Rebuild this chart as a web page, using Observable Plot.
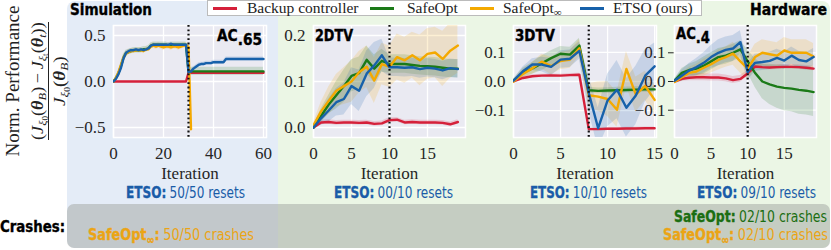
<!DOCTYPE html>
<html><head><meta charset="utf-8">
<script src="https://cdn.jsdelivr.net/npm/d3@7"></script>
<script src="https://cdn.jsdelivr.net/npm/@observablehq/plot@0.6"></script>
<style>
body{margin:0;background:#fff;}
#root{position:relative;width:831px;height:250px;overflow:hidden;background:#fff;}
.bold{font-family:"DejaVu Sans Condensed","DejaVu Sans",sans-serif;font-stretch:condensed;font-weight:bold;-webkit-text-stroke:0.35px currentColor;}
.narrow{font-family:"DejaVu Sans Condensed","DejaVu Sans",sans-serif;font-stretch:condensed;font-weight:normal;}
.serif{font-family:"Liberation Serif","DejaVu Serif",serif;color:#222;}
sub{line-height:0;}
</style></head>
<body><div id="root"></div>
<script>
// ---------- DATA ----------
const seriesKeys = ["Backup controller", "SafeOpt", "SafeOpt∞", "ETSO (ours)"];
const seriesColors = ["#d5203a", "#1b7a18", "#f4a900", "#1761aa"];

// Panel 1: AC.65 (simulation), iterations 0..60
const ac65Backup = [0,0,0,0,0,0,0,0,0,0, 0,0,0,0,0,0,0,0,0,0, 0,0,0,0,0,0,0,0,0,0,
  0.095,0.095,0.095,0.095,0.095,0.095,0.095,0.095,0.095,0.095, 0.095,0.095,0.095,0.095,0.095,0.095,0.095,0.095,0.095,0.095,
  0.095,0.095,0.095,0.095,0.095,0.095,0.095,0.095,0.095,0.095, 0.095];
const ac65BackupSd = [0.003,0.003,0.003,0.003,0.003,0.003,0.003,0.003,0.003,0.003, 0.003,0.003,0.003,0.003,0.003,0.003,0.003,0.003,0.003,0.003,
  0.003,0.003,0.003,0.003,0.003,0.003,0.003,0.003,0.003,0.003, 0.004,0.004,0.004,0.004,0.004,0.004,0.004,0.004,0.004,0.004,
  0.004,0.004,0.004,0.004,0.004,0.004,0.004,0.004,0.004,0.004, 0.004,0.004,0.004,0.004,0.004,0.004,0.004,0.004,0.004,0.004, 0.004];
const ac65SafeOpt = [0.00,0.04,0.09,0.17,0.26,0.31,0.32,0.33,0.34,0.34, 0.34,0.34,0.35,0.35,0.36,0.39,0.40,0.40,0.40,0.40,
  0.40,0.40,0.39,0.40,0.40,0.40,0.40,0.40,0.40,0.40,
  0.11,0.11,0.11,0.11,0.11,0.11,0.11,0.11,0.11,0.11, 0.11,0.11,0.11,0.11,0.11,0.11,0.11,0.11,0.11,0.11,
  0.11,0.11,0.11,0.11,0.11,0.11,0.11,0.11,0.11,0.11, 0.11];
const ac65SafeOptSd = [0.005,0.02,0.03,0.035,0.035,0.03,0.03,0.03,0.03,0.03, 0.03,0.03,0.03,0.03,0.03,0.03,0.03,0.03,0.03,0.03,
  0.03,0.03,0.03,0.03,0.03,0.03,0.03,0.03,0.03,0.03,
  0.045,0.045,0.045,0.045,0.045,0.045,0.045,0.045,0.045,0.045, 0.045,0.045,0.045,0.045,0.045,0.045,0.045,0.045,0.045,0.045,
  0.045,0.045,0.045,0.045,0.045,0.045,0.045,0.045,0.045,0.045, 0.045];
const ac65SafeOptInf = [0.00,0.04,0.10,0.18,0.26,0.30,0.32,0.33,0.33,0.34, 0.34,0.34,0.33,0.35,0.35,0.38,0.39,0.38,0.39,0.38,
  0.37,0.38,0.38,0.37,0.38,0.38,0.37,0.38,0.39,0.39, 0.38,-0.52];
const ac65SafeOptInfSd = [0.005,0.02,0.03,0.03,0.03,0.025,0.025,0.025,0.025,0.025, 0.025,0.025,0.025,0.025,0.025,0.03,0.03,0.03,0.03,0.03,
  0.03,0.03,0.03,0.03,0.03,0.03,0.03,0.03,0.03,0.03, 0.03,0.0];
const ac65Etso = [0.00,0.03,0.08,0.15,0.25,0.31,0.33,0.34,0.34,0.35, 0.34,0.35,0.34,0.35,0.36,0.39,0.40,0.40,0.40,0.40,
  0.40,0.40,0.40,0.41,0.40,0.40,0.40,0.40,0.40,0.40,
  0.10,0.11,0.14,0.16,0.18,0.19,0.19,0.20,0.20,0.20, 0.21,0.21,0.21,0.21,0.21,0.245,0.245,0.245,0.245,0.245,
  0.245,0.245,0.245,0.245,0.245,0.245,0.245,0.245,0.245,0.245, 0.245];
const ac65EtsoSd = [0.005,0.01,0.02,0.025,0.025,0.02,0.015,0.015,0.015,0.015, 0.015,0.015,0.015,0.015,0.015,0.015,0.015,0.015,0.015,0.015,
  0.015,0.015,0.015,0.015,0.015,0.015,0.015,0.015,0.015,0.015,
  0.02,0.02,0.02,0.02,0.02,0.02,0.02,0.02,0.02,0.02, 0.02,0.02,0.02,0.02,0.02,0.02,0.02,0.02,0.02,0.02,
  0.02,0.02,0.02,0.02,0.02,0.02,0.02,0.02,0.02,0.02, 0.02];

// Panel 2: 2DTV (hardware), iterations 0..19
const dtv2Backup = [0.0,0.011,0.012,0.010,0.011,0.011,0.010,0.011,0.008,0.009,0.016,0.017,0.011,0.012,0.011,0.011,0.011,0.010,0.007,0.012];
const dtv2BackupSd = [0.003,0.005,0.005,0.005,0.005,0.005,0.005,0.005,0.005,0.005,0.005,0.005,0.005,0.005,0.005,0.005,0.005,0.005,0.005,0.005];
const dtv2SafeOpt = [0,0.025,0.05,0.07,0.09,0.112,0.118,0.147,0.128,0.145,0.138,0.138,0.138,0.136,0.134,0.133,0.132,0.130,0.128,0.128];
const dtv2SafeOptSd = [0.005,0.015,0.02,0.03,0.035,0.035,0.035,0.03,0.03,0.025,0.02,0.02,0.02,0.02,0.02,0.02,0.02,0.02,0.02,0.02];
const dtv2SafeOptInf = [0.005,0.035,0.058,0.08,0.09,0.1,0.12,0.132,0.102,0.138,0.132,0.153,0.146,0.157,0.146,0.16,0.163,0.149,0.167,0.178];
const dtv2SafeOptInfSd = [0.005,0.02,0.03,0.035,0.04,0.045,0.045,0.045,0.05,0.045,0.045,0.05,0.05,0.05,0.055,0.055,0.055,0.06,0.06,0.06];
const dtv2Etso = [0,0.02,0.037,0.055,0.062,0.09,0.08,0.117,0.135,0.157,0.131,0.131,0.13,0.131,0.127,0.13,0.128,0.124,0.129,0.127];
const dtv2EtsoSd = [0.005,0.015,0.025,0.03,0.035,0.04,0.045,0.05,0.05,0.035,0.02,0.02,0.02,0.02,0.02,0.02,0.02,0.02,0.02,0.02];

// Panel 3: 3DTV (hardware), iterations 0..15
const dtv3Backup = [0,0.012,0.018,0.02,0.021,0.02,0.022,0.023,-0.163,-0.163,-0.162,-0.162,-0.161,-0.161,-0.16,-0.16];
const dtv3BackupSd = [0.003,0.005,0.005,0.005,0.005,0.005,0.005,0.005,0.004,0.004,0.004,0.004,0.004,0.004,0.004,0.004];
const dtv3SafeOpt = [0.003,0.03,0.045,0.062,0.08,0.095,0.092,0.123,-0.03,-0.032,-0.031,-0.03,-0.029,-0.028,-0.027,-0.027];
const dtv3SafeOptSd = [0.005,0.015,0.02,0.025,0.025,0.025,0.025,0.025,0.01,0.01,0.01,0.01,0.01,0.01,0.01,0.01];
const dtv3SafeOptInf = [0.0,0.026,0.045,0.068,0.053,0.07,0.075,0.114,-0.047,-0.052,-0.06,-0.097,0.043,-0.045,-0.015,-0.063];
const dtv3SafeOptInfSd = [0.005,0.015,0.02,0.025,0.03,0.03,0.03,0.03,0.04,0.05,0.06,0.06,0.06,0.06,0.05,0.05];
const dtv3Etso = [0.003,0.035,0.058,0.058,0.05,0.075,0.078,0.105,-0.04,-0.16,-0.065,-0.028,-0.09,-0.048,0.02,0.052];
const dtv3EtsoSd = [0.005,0.015,0.02,0.025,0.03,0.03,0.03,0.03,0.06,0.07,0.09,0.1,0.1,0.1,0.09,0.08];

// Panel 4: AC.4 (hardware), iterations 0..19
const ac4Backup = [0.0,0.009,0.013,0.015,0.015,0.014,0.014,0.011,0.005,0.009,0.028,0.052,0.05,0.049,0.05,0.051,0.051,0.05,0.048,0.045];
const ac4BackupSd = [0.003,0.008,0.01,0.012,0.012,0.012,0.012,0.012,0.012,0.012,0.01,0.008,0.008,0.008,0.008,0.008,0.008,0.008,0.008,0.008];
const ac4SafeOpt = [0.003,0.03,0.04,0.045,0.055,0.07,0.085,0.09,0.1,0.112,0.07,0.03,0.0,-0.01,-0.018,-0.022,-0.025,-0.029,-0.032,-0.037];
const ac4SafeOptSd = [0.005,0.015,0.02,0.025,0.03,0.03,0.03,0.03,0.03,0.03,0.04,0.05,0.06,0.07,0.075,0.08,0.08,0.085,0.085,0.085];
const ac4SafeOptInf = [-0.002,0.015,0.03,0.035,0.048,0.06,0.075,0.085,0.097,0.07,0.045,0.085,0.1,0.095,0.09,0.108,0.1,0.1,0.1,0.087];
const ac4SafeOptInfSd = [0.005,0.015,0.02,0.025,0.03,0.03,0.035,0.035,0.04,0.04,0.04,0.045,0.045,0.045,0.045,0.045,0.045,0.045,0.045,0.045];
const ac4Etso = [0.003,0.02,0.038,0.05,0.065,0.085,0.1,0.11,0.115,0.137,0.032,0.065,0.068,0.072,0.082,0.073,0.09,0.075,0.07,0.085];
const ac4EtsoSd = [0.005,0.02,0.025,0.03,0.035,0.04,0.045,0.045,0.045,0.04,0.03,0.03,0.03,0.03,0.03,0.03,0.03,0.03,0.03,0.03];

// Tick values
const ac65XTicks = [0, 20, 40, 60], ac65YTicks = [-0.5, 0, 0.5];
const dtv2XTicks = [0, 5, 10, 15], dtv2YTicks = [0, 0.1, 0.2];
const dtv3XTicks = [0, 5, 10, 15], dtv3YTicks = [-0.1, 0, 0.1];
const ac4XTicks = [0, 5, 10, 15], ac4YTicks = [-0.1, 0.1];
// Iteration at which the environment changes (dotted line)
const changeIter = [30, 10, 8, 10];
// Text
const panelNames = [["AC", ".65"], ["2DTV", ""], ["3DTV", ""], ["AC", ".4"]];
const etsoResets = ["50/50 resets", "00/10 resets", "10/10 resets", "09/10 resets"];

// ---------- LAYOUT ----------
const root = document.getElementById("root");
function el(tag, css, html, parent) {
  const e = document.createElement(tag);
  e.style.cssText = css;
  if (html != null) e.innerHTML = html;
  (parent || root).appendChild(e);
  return e;
}
// text scaled horizontally to span [x0, x1], vertically centred at cy
function fitText(html, x0, x1, cy, lh) {
  const e = el("div", `position:absolute;left:${x0}px;top:${cy - lh / 2}px;line-height:${lh}px;white-space:nowrap;transform-origin:0 50%;`, html);
  const w = e.getBoundingClientRect().width;
  e.style.transform = `scaleX(${(x1 - x0) / w})`;
  return e;
}
// backgrounds
el("div", "position:absolute;left:67px;top:1px;width:211px;height:247px;background:#e4ecf7;border-radius:8px 0 0 8px;");
el("div", "position:absolute;left:278px;top:1px;width:552px;height:247px;background:#ebf6e5;border-radius:0 8px 8px 0;");
el("div", "position:absolute;left:67px;top:204px;width:763px;height:44px;background:rgba(160,163,160,0.5);border-radius:7px;");

const panels = [
  {left:113, top:25, w:153, h:112, xDomain:[0, 61.2], yDomain:[-0.6087, 0.6087], xTicks:ac65XTicks, yTicks:ac65YTicks, yLabels:true,
   series:[[ac65Backup, ac65BackupSd],[ac65SafeOpt, ac65SafeOptSd],[ac65SafeOptInf, ac65SafeOptInfSd],[ac65Etso, ac65EtsoSd]]},
  {left:313, top:25, w:152, h:112, xDomain:[0, 20], yDomain:[-0.0217, 0.2217], xTicks:dtv2XTicks, yTicks:dtv2YTicks, yLabels:true,
   series:[[dtv2Backup, dtv2BackupSd],[dtv2SafeOpt, dtv2SafeOptSd],[dtv2SafeOptInf, dtv2SafeOptInfSd],[dtv2Etso, dtv2EtsoSd]]},
  {left:513, top:25, w:143, h:112, xDomain:[0, 15.2], yDomain:[-0.1918, 0.1918], xTicks:dtv3XTicks, yTicks:dtv3YTicks, yLabels:true,
   series:[[dtv3Backup, dtv3BackupSd],[dtv3SafeOpt, dtv3SafeOptSd],[dtv3SafeOptInf, dtv3SafeOptInfSd],[dtv3Etso, dtv3EtsoSd]]},
  {left:674, top:25, w:142, h:112, xDomain:[0, 19.4], yDomain:[-0.195, 0.195], xTicks:ac4XTicks, yTicks:ac4YTicks, yLabels:false,
   series:[[ac4Backup, ac4BackupSd],[ac4SafeOpt, ac4SafeOptSd],[ac4SafeOptInf, ac4SafeOptInfSd],[ac4Etso, ac4EtsoSd]]}
];

const fmt = d => (d < 0 ? "\u2212" : "") + Math.abs(d).toFixed(1);
panels.forEach((p, pi) => {
  const rows = [];
  p.series.forEach(([mean, sd], si) => {
    mean.forEach((v, i) => rows.push({x: i, y: v, lo: v - sd[i], hi: v + sd[i], key: seriesKeys[si]}));
  });
  const ml = 52, mr = 8, mt = 6, mb = 52;
  const svg = Plot.plot({
    width: p.w + ml + mr, height: p.h + mt + mb,
    marginLeft: ml, marginRight: mr, marginTop: mt, marginBottom: mb,
    style: {background: "transparent", fontFamily: "'Liberation Serif', serif", fontSize: "17px", color: "#262626", overflow: "visible"},
    x: {domain: p.xDomain},
    y: {domain: p.yDomain},
    color: {domain: seriesKeys, range: seriesColors},
    marks: [
      Plot.frame({fill: "#eaeaf2", stroke: "#fff", strokeWidth: 1.5}),
      Plot.gridX(p.xTicks, {stroke: "#fff", strokeOpacity: 1, strokeWidth: 1.3}),
      Plot.gridY(p.yTicks, {stroke: "#fff", strokeOpacity: 1, strokeWidth: 1.3}),
      Plot.areaY(rows, {x: "x", y1: "lo", y2: "hi", z: "key", fill: "key", fillOpacity: 0.17, clip: true}),
      Plot.line(rows, {x: "x", y: "y", z: "key", stroke: "key", strokeWidth: 2.4, clip: true}),
      Plot.ruleX([changeIter[pi]], {stroke: "#111", strokeWidth: 2.2, strokeDasharray: "1.8,2.6"}),
      Plot.axisX(p.xTicks, {tickSize: 0, tickPadding: 9, label: "Iteration", labelAnchor: "center", labelArrow: "none", labelOffset: 41, fontSize: 17}),
      p.yLabels ? Plot.axisY(p.yTicks, {tickSize: 0, tickPadding: 8, tickFormat: fmt, label: null, fontSize: 17}) : null
    ]
  });
  const wrap = el("div", `position:absolute;left:${p.left - ml}px;top:${p.top - mt}px;width:${p.w + ml + mr}px;`);
  wrap.appendChild(svg);
});

// panel names
const sub = s => s ? `<span style="position:relative;top:4px">${s}</span>` : "";
fitText(`<span class="bold" style="font-size:16px;color:#000">${panelNames[0][0]}${sub(panelNames[0][1])}</span>`, 217, 262, 36, 16);
fitText(`<span class="bold" style="font-size:15px;color:#000">${panelNames[1][0]}</span>`, 315, 353, 36, 16);
fitText(`<span class="bold" style="font-size:15px;color:#000">${panelNames[2][0]}</span>`, 515, 555, 36, 16);
fitText(`<span class="bold" style="font-size:16px;color:#000">${panelNames[3][0]}${sub(panelNames[3][1])}</span>`, 676, 710, 34, 16);

// section labels
fitText(`<span class="bold" style="font-size:16px;color:#000">Simulation</span>`, 70, 152, 10, 18);
fitText(`<span class="bold" style="font-size:16px;color:#000">Hardware</span>`, 750, 827, 10, 18);
fitText(`<span class="bold" style="font-size:16px;color:#000">Crashes:</span>`, 0, 65, 227, 18);

// ETSO resets
const etsoX = [[126, 245], [334, 453], [530, 647], [697, 816]];
etsoResets.forEach((t, i) => {
  fitText(`<span style="color:#1a5ca8"><span class="bold" style="font-size:16px">ETSO:</span> <span class="narrow" style="font-size:16px">${t}</span></span>`,
          etsoX[i][0], etsoX[i][1], 193, 18);
});
// crashes
const inf = `SafeOpt<span style="font-size:12px;position:relative;top:4px">∞</span>:`;
fitText(`<span style="color:#eba415"><span class="bold" style="font-size:16px">${inf}</span> <span class="narrow" style="font-size:16px">50/50 crashes</span></span>`, 88, 254, 235, 18);
fitText(`<span style="color:#1b6e12"><span class="bold" style="font-size:16px">SafeOpt:</span> <span class="narrow" style="font-size:16px">02/10 crashes</span></span>`, 674, 827, 217, 18);
fitText(`<span style="color:#eba415"><span class="bold" style="font-size:16px">${inf}</span> <span class="narrow" style="font-size:16px">02/10 crashes</span></span>`, 663, 828, 235, 18);

// legend
el("div", "position:absolute;left:207px;top:0px;width:495px;height:16px;background:#fff;border:1px solid #bbb;box-sizing:border-box;");
const legSw = [213, 370, 470, 580], legTx = [247, 407, 503, 613];
const legLabels = ["Backup controller", "SafeOpt", `SafeOpt<span style="font-size:11px;position:relative;top:3px">∞</span>`, "ETSO (ours)"];
legLabels.forEach((l, i) => {
  el("div", `position:absolute;left:${legSw[i]}px;top:7px;width:24px;height:2.5px;background:${seriesColors[i]};`);
  el("div", `position:absolute;left:${legTx[i]}px;top:-1px;line-height:18px;font-size:15.5px;white-space:nowrap;`, `<span class="serif">${l}</span>`);
});

// y-axis label
el("div", "position:absolute;left:-65px;top:71px;width:156px;height:20px;line-height:20px;text-align:center;transform:rotate(-90deg);font-size:19px;white-space:nowrap;",
   `<span class="serif">Norm. Performance</span>`);
const J = (s) => `<i>J</i><sub style="font-size:11px;vertical-align:-3px"><i>ξ</i><sub style="font-size:8px;vertical-align:-2px">${s}</sub></sub>`;
const th = (s) => `(<b><i>θ</i></b><sub style="font-size:11px;vertical-align:-3px"><i>${s}</i></sub>)`;
// fraction block: centre (49, 81), rotated -90deg; top part of block ends up at the left
const frac = el("div", "position:absolute;left:-21px;top:61px;width:140px;height:40px;transform:rotate(-90deg);font-size:16px;");
const num = el("div", "position:absolute;left:0;top:0;width:140px;height:17px;line-height:17px;text-align:center;white-space:nowrap;", "", frac);
const numIn = el("span", "display:inline-block;transform-origin:50% 50%;", `<span class="serif">(${J("0")}${th("B")}\u2009\u2212\u2009${J("t")}${th("t")})</span>`, num);
el("div", "position:absolute;left:11px;top:19px;width:118px;height:1px;background:#222;", "", frac);
const den = el("div", "position:absolute;left:0;top:22px;width:140px;height:17px;line-height:17px;text-align:center;white-space:nowrap;", "", frac);
const denIn = el("span", "display:inline-block;transform-origin:50% 50%;", `<span class="serif">${J("0")}${th("B")}</span>`, den);
numIn.style.transform = `scaleX(${118 / numIn.offsetWidth})`;
denIn.style.transform = `scaleX(${50 / denIn.offsetWidth})`;
</script></body></html>
